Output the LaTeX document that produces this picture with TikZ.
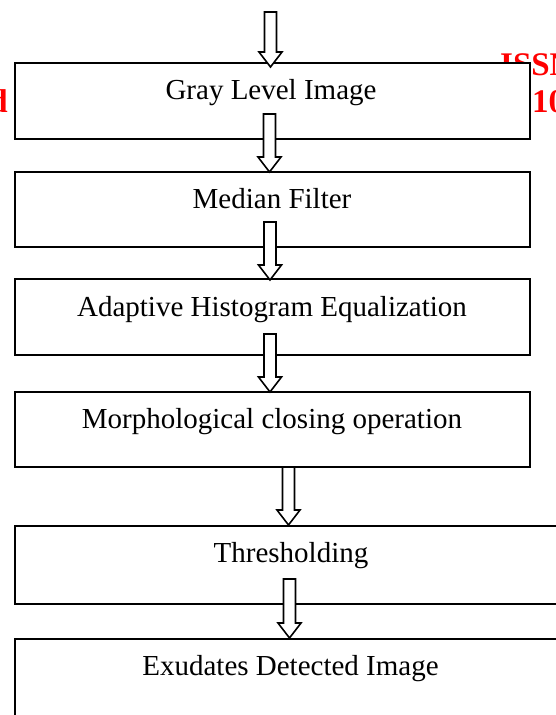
\documentclass[tikz,border=0pt]{standalone}
\usepackage{fontspec}
\setmainfont{Liberation Serif}
\usetikzlibrary{calc}

\tikzset{
  stepbox/.style={draw=black, line width=2pt, fill=white, rectangle,
    anchor=north west, inner sep=0pt},
  lbl/.style={anchor=base, inner sep=0pt, font=\fontsize{29}{34}\selectfont},
  header/.style={inner sep=0pt, text=red, font=\fontsize{33}{38}\selectfont\bfseries},
  blockarrow/.style={draw=black, line width=1.6pt, fill=white, line join=miter},
}

% hollow block arrow from the top of its shaft (#1) down to its tip (#2)
\newcommand\hollowarrow[2]{%
  \draw[blockarrow] let \p1=(#1), \p2=(#2) in
    (\x1-6pt,\y1) -- (\x1+6pt,\y1) -- (\x1+6pt,\y2+15pt) -- (\x1+11.5pt,\y2+15pt)
    -- (\x1,\y2) -- (\x1-11.5pt,\y2+15pt) -- (\x1-6pt,\y2+15pt) -- cycle;}

\begin{document}
\begin{tikzpicture}[x=1pt, y=-1pt]
\useasboundingbox (0,0) rectangle (556,715);
\clip (0,0) rectangle (556,715);
\fill[white] (0,0) rectangle (556,715);

% running header text behind the chart
\node[header, anchor=base west] (issn) at (500,75) {ISSN};
\node[header, anchor=base west] (num) at (532,112) {10};
\node[header, anchor=base east] (hd) at (8,112) {d};

% process boxes
\node[stepbox, minimum width=515pt, minimum height=76pt] (b1) at (14,62) {};
\node[stepbox, minimum width=515pt, minimum height=75pt] (b2) at (14,171) {};
\node[stepbox, minimum width=515pt, minimum height=76pt] (b3) at (14,278) {};
\node[stepbox, minimum width=515pt, minimum height=75pt] (b4) at (14,391) {};
\node[stepbox, minimum width=554pt, minimum height=78pt] (b5) at (14,525) {};
\node[stepbox, minimum width=554pt, minimum height=100pt] (b6) at (14,638) {};

% box captions
\node[lbl] (t1) at (271,99) {Gray Level Image};
\node[lbl] (t2) at (272,208) {Median Filter};
\node[lbl] (t3) at (272,316) {Adaptive Histogram Equalization};
\node[lbl] (t4) at (272,428) {Morphological closing operation};
\node[lbl] (t5) at (291,562) {Thresholding};
\node[lbl] (t6) at (290.5,675) {Exudates Detected Image};

% arrow anchors: shaft tops and tips
\coordinate (s0) at (270.5,12);  \coordinate (e0) at (270.5,67);
\coordinate (s1) at (269.5,114); \coordinate (e1) at (269.5,172);
\coordinate (s2) at (270,222);   \coordinate (e2) at (270,280);
\coordinate (s3) at (270,334);   \coordinate (e3) at (270,392);
\coordinate (s4) at (288.5,467); \coordinate (e4) at (288.5,525);
\coordinate (s5) at (289.5,579); \coordinate (e5) at (289.5,638);

\hollowarrow{s0}{e0}
\hollowarrow{s1}{e1}
\hollowarrow{s2}{e2}
\hollowarrow{s3}{e3}
\hollowarrow{s4}{e4}
\hollowarrow{s5}{e5}
\end{tikzpicture}
\end{document}
